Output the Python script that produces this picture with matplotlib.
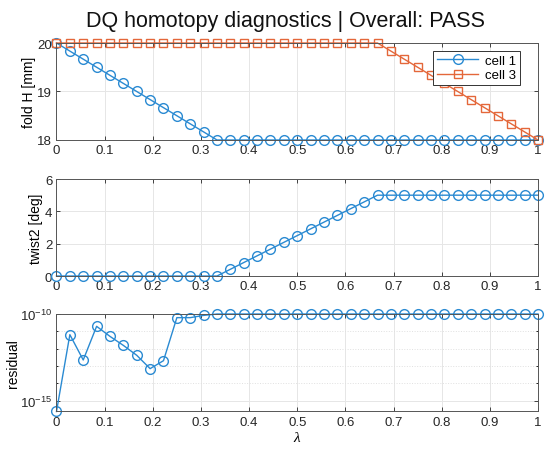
import numpy as np
import matplotlib.pyplot as plt
from matplotlib.ticker import LogLocator, NullFormatter

plt.rcParams['font.family'] = ['Liberation Sans', 'DejaVu Sans']
plt.rcParams['mathtext.fontset'] = 'custom'
plt.rcParams['mathtext.rm'] = 'Liberation Sans'
plt.rcParams['mathtext.it'] = 'Liberation Serif:italic'

# 37 homotopy steps
lam = np.linspace(0, 1, 37)

fold_cell1 = [20.0, 19.8333, 19.6667, 19.5, 19.3333, 19.1667, 19.0, 18.8333,
              18.6667, 18.5, 18.3333, 18.1667] + [18.0] * 25
fold_cell3 = [20.0] * 25 + [19.8333, 19.6667, 19.5, 19.3333, 19.1667, 19.0,
                            18.8333, 18.6667, 18.5, 18.3333, 18.1667, 18.0]

twist2 = [0.0] * 13 + [0.4167, 0.8333, 1.25, 1.6667, 2.0833, 2.5, 2.9167,
                       3.3333, 3.75, 4.1667, 4.5833] + [5.0] * 13

log_resid = [-15.62, -11.19, -12.65, -10.71, -11.29, -11.81, -12.38, -13.15,
             -12.69, -10.21, -10.21, -10.08] + [-10.0] * 25
residual = 10.0 ** np.array(log_resid)

blue = '#2a8ad2'
orange = '#e4673a'
circ = dict(markersize=7, markerfacecolor='none', linewidth=1, markeredgewidth=1)
sq = dict(markersize=5.2, markerfacecolor='none', linewidth=1, markeredgewidth=1)


def style(ax):
    ax.set_xlim(0, 1)
    ax.set_xticks(np.arange(0, 1.01, 0.1))
    ax.set_xticklabels(['0', '0.1', '0.2', '0.3', '0.4', '0.5', '0.6', '0.7', '0.8', '0.9', '1'])
    ax.tick_params(direction='in', top=True, right=True, labelsize=9.5, colors='#262626',
                   length=3, pad=3, width=0.6)
    ax.tick_params(which='minor', direction='in', right=True, length=1.5)
    ax.grid(True, color='#e6e6e6', linewidth=0.7)
    ax.set_axisbelow(True)
    for s in ax.spines.values():
        s.set_color('#555555')
        s.set_linewidth(0.7)


fig = plt.figure(figsize=(5.5, 4.56), dpi=100)
ax1 = fig.add_axes([0.1027, 0.6908, 0.8755, 0.2127])
ax2 = fig.add_axes([0.1027, 0.3925, 0.8755, 0.2127])
ax3 = fig.add_axes([0.1027, 0.0954, 0.8755, 0.2138])

# fold H
ax1.plot(lam, fold_cell1, '-o', color=blue, label='cell 1', clip_on=False, **circ)
ax1.plot(lam, fold_cell3, '-s', color=orange, label='cell 3', clip_on=False, **sq)
ax1.set_ylim(18, 20)
ax1.set_yticks([18, 19, 20])
ax1.set_ylabel('fold H [mm]', fontsize=10)
ax1.yaxis.set_label_coords(-0.043, 0.5)
style(ax1)
leg = ax1.legend(loc='upper right', bbox_to_anchor=(0.9626, 0.92), fontsize=9.5,
                 fancybox=False, framealpha=1, edgecolor='#333333', handlelength=3.1,
                 borderaxespad=0, borderpad=0.3, labelspacing=0.15, handletextpad=0.5)
leg.get_frame().set_linewidth(0.7)

# twist2
ax2.plot(lam, twist2, '-o', color=blue, clip_on=False, **circ)
ax2.set_ylim(0, 6)
ax2.set_yticks([0, 2, 4, 6])
ax2.set_ylabel('twist2 [deg]', fontsize=10)
ax2.yaxis.set_label_coords(-0.029, 0.5)
style(ax2)

# residual
ax3.semilogy(lam, residual, '-o', color=blue, clip_on=False, **circ)
ax3.set_ylim(10 ** -15.62, 1e-10)
ax3.set_yticks([1e-15, 1e-10])
ax3.yaxis.set_minor_locator(LogLocator(base=10, subs=[1.0], numticks=20))
ax3.yaxis.set_minor_formatter(NullFormatter())
ax3.set_ylabel('residual', fontsize=10)
ax3.yaxis.set_label_coords(-0.076, 0.5)
ax3.set_xlabel(r'$\lambda$', fontsize=11, labelpad=2)
style(ax3)
ax3.grid(True, which='minor', axis='y', color='#e0e0e0', linewidth=0.7, linestyle=':')

fig.text(0.519, 1 - 26.7 / 456, 'DQ homotopy diagnostics | Overall: PASS',
         fontsize=15.5, ha='center', va='baseline', color='#111111')

fig.savefig('out.png', dpi=100)
